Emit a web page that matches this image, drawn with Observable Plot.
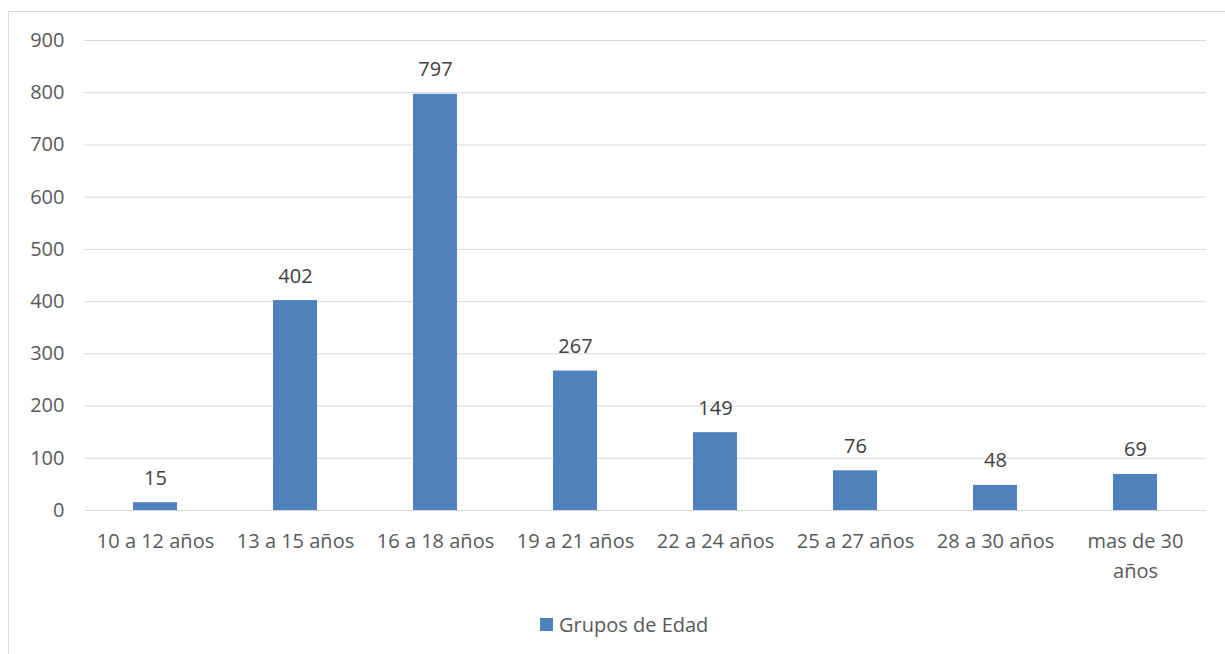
<!DOCTYPE html>
<html><head><meta charset="utf-8">
<script src="https://cdn.jsdelivr.net/npm/d3@7"></script>
<script src="https://cdn.jsdelivr.net/npm/@observablehq/plot@0.6"></script>
<style>
html,body{margin:0;padding:0;background:#fff;overflow:hidden;}
#frame{position:absolute;left:8px;top:11px;width:1240px;height:700px;border:1px solid #d9d9d9;box-sizing:border-box;}
#chart{position:absolute;left:0;top:0;}
#legend{position:absolute;left:531px;top:599px;font-family:"Open Sans",sans-serif;font-size:20px;color:#595959;display:flex;align-items:center;white-space:nowrap;}
#legend .sw{width:13px;height:13px;background:#4F81BD;margin-right:6px;}
</style></head>
<body>
<div id="frame"><div id="chart"></div><div id="legend"><span class="sw"></span><span>Grupos de Edad</span></div></div>
<script>
const categories = ["10 a 12 años","13 a 15 años","16 a 18 años","19 a 21 años","22 a 24 años","25 a 27 años","28 a 30 años","mas de 30 años"];
const values = [15,402,797,267,149,76,48,69];
const yTicks = [0,100,200,300,400,500,600,700,800,900];
const seriesName = "Grupos de Edad";

const data = categories.map((c,i)=>({cat:c, v:values[i]}));
const chart = Plot.plot({
  width: 1216,
  height: 590,
  marginLeft: 75,
  marginRight: 19,
  marginTop: 28,
  marginBottom: 92,
  style: {fontFamily: '"Open Sans", sans-serif', fontSize: "20px", color: "#595959", background: "transparent"},
  x: {domain: categories, paddingInner: 0.686, paddingOuter: 0.343, label: null},
  y: {domain: [0, 900], label: null},
  marks: [
    Plot.gridY(yTicks, {stroke: "#d9d9d9", strokeOpacity: 1, strokeWidth: 1}),
    Plot.axisY({ticks: yTicks, tickSize: 0, tickPadding: 20, label: null, fill: "#595959", fontSize: 20}),
    Plot.axisX({tickSize: 0, tickPadding: 16, label: null, fill: "#595959", fontSize: 20, lineHeight: 1.5,
      tickFormat: d => d.replace("de 30 años", "de 30\naños")}),
    Plot.barY(data, {x: "cat", y: "v", fill: "#4F81BD"}),
    Plot.text(data, {x: "cat", y: "v", text: d => String(d.v), dy: -18, lineAnchor: "bottom", fill: "#404040", fontSize: 20})
  ]
});
document.getElementById("chart").appendChild(chart);
</script>
</body></html>
